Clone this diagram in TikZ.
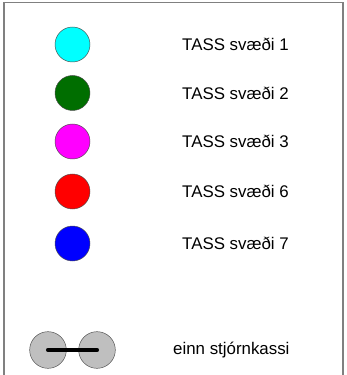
\documentclass[tikz,border=0pt]{standalone}
\usepackage{fontspec}
\setmainfont{Liberation Sans}
\usetikzlibrary{positioning}
\definecolor{zonecyan}{RGB}{0,255,255}
\definecolor{zonegreen}{RGB}{0,110,0}
\definecolor{zonemagenta}{RGB}{255,0,255}
\definecolor{zonered}{RGB}{255,0,0}
\definecolor{zoneblue}{RGB}{0,0,255}

\begin{document}
\begin{tikzpicture}
[x=0.03cm,y=-0.03cm,
zone/.style={
	circle,
        draw=black!70,
        minimum size=1.05cm,
        inner sep=0pt,
    },
legendtext/.style={
	anchor=west,
        font=\fontsize{14.4}{17}\selectfont,
        inner sep=0pt,
    },]
\useasboundingbox (0,0) rectangle (346,375);
% frame of the legend
\draw[gray, line width=1pt] (4,380) -- (4,2.5) -- (343,2.5) -- (343,380);

% the zones
\node[zone, fill=zonecyan] (zone1) at (72.5,44.5){};
\node[zone, fill=zonegreen] (zone2) at (72.5,93){};
\node[zone, fill=zonemagenta] (zone3) at (72.5,141.5){};
\node[zone, fill=zonered] (zone6) at (72.5,191.5){};
\node[zone, fill=zoneblue] (zone7) at (72.5,243.5){};
\node[legendtext] (text1) at (182,44.5){TASS svæði 1};
\node[legendtext] (text2) at (182,93){TASS svæði 2};
\node[legendtext] (text3) at (182,141.5){TASS svæði 3};
\node[legendtext] (text6) at (182,191.5){TASS svæði 6};
\node[legendtext] (text7) at (182,243.5){TASS svæði 7};

% control box
\node[zone, fill=black!25, minimum size=1.1cm] (box1) at (48,350){};
\node[zone, fill=black!25, minimum size=1.1cm] (box2) at (97,350){};
\draw[line width=3.5pt, line cap=round] (box1.center) -- (box2.center);
\node[legendtext] (textbox) at (173,350){einn stjórnkassi};
\end{tikzpicture}
\end{document}
